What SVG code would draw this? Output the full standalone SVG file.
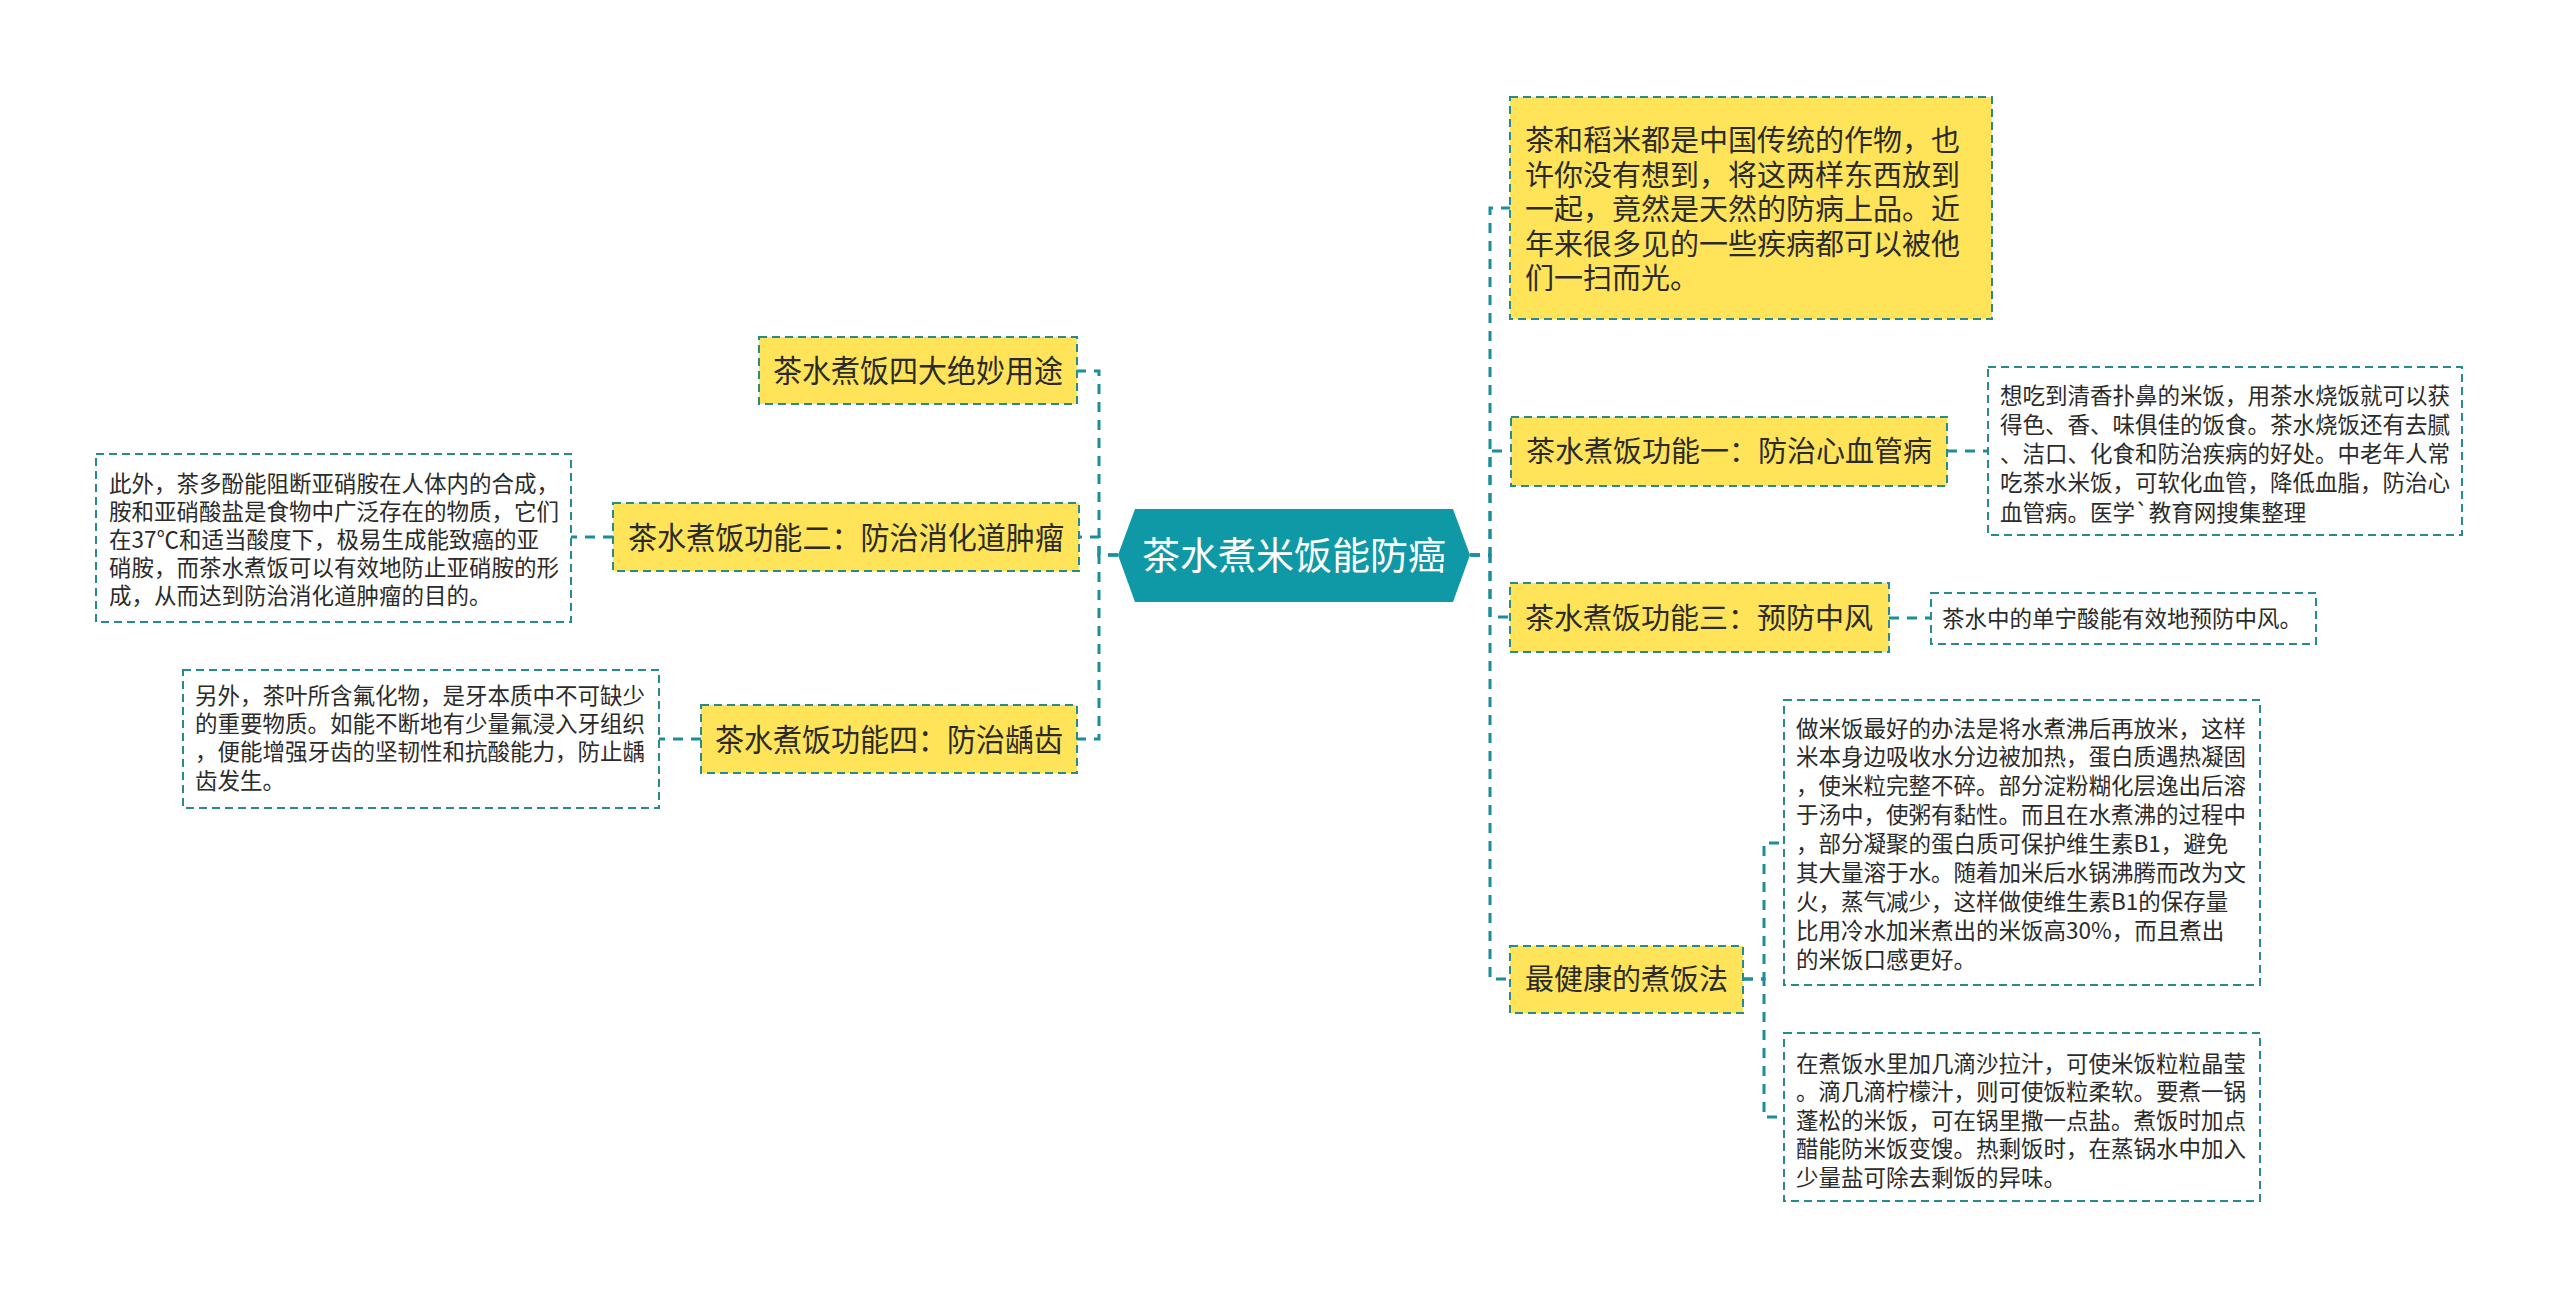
<svg xmlns="http://www.w3.org/2000/svg" width="2560" height="1298" viewBox="0 0 2560 1298">
<style>
.bg{fill:#ffffff}
.hl{fill:#FFE359;stroke:#278B8E;stroke-width:2;stroke-dasharray:8 5}
.dt{fill:#ffffff;stroke:#278B8E;stroke-width:2;stroke-dasharray:8 5}
.conn{fill:none;stroke:#1A8E9A;stroke-width:3;stroke-dasharray:10 8}
.lab{font-family:"Noto Sans CJK SC","Noto Sans",sans-serif;fill:#2b2b2b}
.l29{font-size:29px}
.l31{font-size:31px}
.d{font-size:22.5px}
.ct{font-family:"Noto Sans CJK SC","Noto Sans",sans-serif;font-size:38px;fill:#ffffff}
</style>
<rect class="bg" x="0" y="0" width="2560" height="1298"/>
<g id="connectors">
<path class="conn" d="M1470 555 H1490 V208 H1510"/>
<path class="conn" d="M1470 555 H1490 V451 H1510"/>
<path class="conn" d="M1470 555 H1490 V617 H1510"/>
<path class="conn" d="M1470 555 H1490 V979 H1510"/>
<path class="conn" d="M1118 555 H1099 V371 H1077"/>
<path class="conn" d="M1118 555 H1099 V537 H1079"/>
<path class="conn" d="M1118 555 H1099 V739 H1077"/>
<path class="conn" d="M1947 451 H1988"/>
<path class="conn" d="M1889 618 H1931"/>
<path class="conn" d="M613 537 H571"/>
<path class="conn" d="M701 739 H659"/>
<path class="conn" d="M1743 979 H1764 V843 H1784"/>
<path class="conn" d="M1743 979 H1764 V1117 H1784"/>
</g>
<g id="center">
<polygon points="1118,555 1135,509 1453,509 1470,555 1453,602 1135,602" fill="#0F98A6"/>
<text class="ct" x="1294" y="569" text-anchor="middle">茶水煮米饭能防癌</text>
</g>
<g id="intro">
<rect class="hl" x="1510" y="97" width="482" height="222"/>
<text class="lab l29" x="1525"><tspan x="1525" y="151">茶和稻米都是中国传统的作物，也</tspan><tspan x="1525" y="185.6">许你没有想到，将这两样东西放到</tspan><tspan x="1525" y="220.2">一起，竟然是天然的防病上品。近</tspan><tspan x="1525" y="254.8">年来很多见的一些疾病都可以被他</tspan><tspan x="1525" y="289.4">们一扫而光。</tspan></text>
</g>
<g id="func1">
<rect class="hl" x="1511" y="417" width="436" height="69"/>
<text class="lab l29" x="1729" y="462" text-anchor="middle">茶水煮饭功能一：防治心血管病</text>
</g>
<g id="func1-detail">
<rect class="dt" x="1988" y="367" width="474" height="168"/>
<text class="lab d"><tspan x="2000" y="403.5">想吃到清香扑鼻的米饭，用茶水烧饭就可以获</tspan><tspan x="2000" y="432.7">得色、香、味俱佳的饭食。茶水烧饭还有去腻</tspan><tspan x="2000" y="462">、洁口、化食和防治疾病的好处。中老年人常</tspan><tspan x="2000" y="491.2">吃茶水米饭，可软化血管，降低血脂，防治心</tspan><tspan x="2000" y="520.5">血管病。医学`教育网搜集整理</tspan></text>
</g>
<g id="func3">
<rect class="hl" x="1510" y="583" width="379" height="69"/>
<text class="lab l29" x="1699" y="629" text-anchor="middle">茶水煮饭功能三：预防中风</text>
</g>
<g id="func3-detail">
<rect class="dt" x="1931" y="593" width="385" height="51"/>
<text class="lab d" x="1942" y="627">茶水中的单宁酸能有效地预防中风。</text>
</g>
<g id="cook">
<rect class="hl" x="1510" y="946" width="233" height="67"/>
<text class="lab l29" x="1626.5" y="990" text-anchor="middle">最健康的煮饭法</text>
</g>
<g id="cook-detail1">
<rect class="dt" x="1784" y="700" width="476" height="285"/>
<text class="lab d"><tspan x="1796" y="736.5">做米饭最好的办法是将水煮沸后再放米，这样</tspan><tspan x="1796" y="765.4">米本身边吸收水分边被加热，蛋白质遇热凝固</tspan><tspan x="1796" y="794.3">，使米粒完整不碎。部分淀粉糊化层逸出后溶</tspan><tspan x="1796" y="823.2">于汤中，使粥有黏性。而且在水煮沸的过程中</tspan><tspan x="1796" y="852.1">，部分凝聚的蛋白质可保护维生素B1，避免</tspan><tspan x="1796" y="881">其大量溶于水。随着加米后水锅沸腾而改为文</tspan><tspan x="1796" y="909.9">火，蒸气减少，这样做使维生素B1的保存量</tspan><tspan x="1796" y="938.8">比用冷水加米煮出的米饭高30%，而且煮出</tspan><tspan x="1796" y="967.7">的米饭口感更好。</tspan></text>
</g>
<g id="cook-detail2">
<rect class="dt" x="1784" y="1033" width="476" height="168"/>
<text class="lab d"><tspan x="1796" y="1071.5">在煮饭水里加几滴沙拉汁，可使米饭粒粒晶莹</tspan><tspan x="1796" y="1100">。滴几滴柠檬汁，则可使饭粒柔软。要煮一锅</tspan><tspan x="1796" y="1128.5">蓬松的米饭，可在锅里撒一点盐。煮饭时加点</tspan><tspan x="1796" y="1157">醋能防米饭变馊。热剩饭时，在蒸锅水中加入</tspan><tspan x="1796" y="1185.5">少量盐可除去剩饭的异味。</tspan></text>
</g>
<g id="uses">
<rect class="hl" x="759" y="337" width="318" height="67"/>
<text class="lab l31" x="918" y="382" text-anchor="middle" textLength="290" lengthAdjust="spacingAndGlyphs">茶水煮饭四大绝妙用途</text>
</g>
<g id="func2">
<rect class="hl" x="613" y="503" width="466" height="68"/>
<text class="lab l31" x="846" y="549" text-anchor="middle" textLength="436" lengthAdjust="spacingAndGlyphs">茶水煮饭功能二：防治消化道肿瘤</text>
</g>
<g id="func2-detail">
<rect class="dt" x="96" y="454" width="475" height="168"/>
<text class="lab d"><tspan x="109" y="491.5">此外，茶多酚能阻断亚硝胺在人体内的合成，</tspan><tspan x="109" y="519.5">胺和亚硝酸盐是食物中广泛存在的物质，它们</tspan><tspan x="109" y="547.5">在37℃和适当酸度下，极易生成能致癌的亚</tspan><tspan x="109" y="575.5">硝胺，而茶水煮饭可以有效地防止亚硝胺的形</tspan><tspan x="109" y="603.5">成，从而达到防治消化道肿瘤的目的。</tspan></text>
</g>
<g id="func4">
<rect class="hl" x="701" y="705" width="376" height="68"/>
<text class="lab l31" x="889" y="751" text-anchor="middle" textLength="348" lengthAdjust="spacingAndGlyphs">茶水煮饭功能四：防治龋齿</text>
</g>
<g id="func4-detail">
<rect class="dt" x="183" y="670" width="476" height="138"/>
<text class="lab d"><tspan x="195" y="703.5">另外，茶叶所含氟化物，是牙本质中不可缺少</tspan><tspan x="195" y="731.9">的重要物质。如能不断地有少量氟浸入牙组织</tspan><tspan x="195" y="760.3">，便能增强牙齿的坚韧性和抗酸能力，防止龋</tspan><tspan x="195" y="788.7">齿发生。</tspan></text>
</g>
</svg>
